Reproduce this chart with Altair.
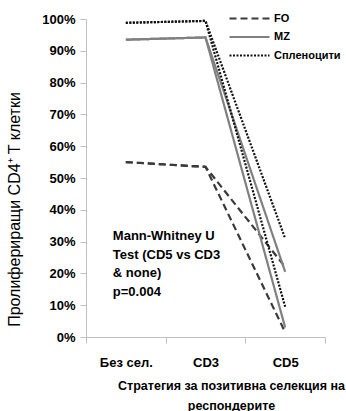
import altair as alt
import pandas as pd

categories = ["Без сел.", "CD3", "CD5"]
groups = ["FO", "MZ", "Спленоцити"]

fo_a = [55.0, 53.5, 22.0]
fo_b = [55.0, 53.5, 1.5]
mz_a = [93.5, 94.2, 20.5]
mz_b = [93.5, 94.2, 3.0]
spl_a = [98.8, 99.4, 31.0]
spl_b = [98.8, 99.4, 9.5]

series = [
    ("FO", "FO_a", fo_a), ("FO", "FO_b", fo_b),
    ("MZ", "MZ_a", mz_a), ("MZ", "MZ_b", mz_b),
    ("Спленоцити", "SPL_a", spl_a), ("Спленоцити", "SPL_b", spl_b),
]
rows = []
for g, s, vals in series:
    for c, v in zip(categories, vals):
        rows.append({"cat": c, "group": g, "series": s, "value": v / 100})
df = pd.DataFrame(rows)

note_text = "Mann-Whitney U\nTest (CD5 vs CD3\n& none)\np=0.004"
note_df = pd.DataFrame({"cat": ["Без сел."], "value": [0.335], "text": [note_text]})

FONT = "Liberation Sans"

xscale = alt.Scale(type="band", domain=categories, paddingInner=0, paddingOuter=0)

lines = alt.Chart(df).mark_line().encode(
    x=alt.X("cat:N", scale=xscale, sort=categories,
            axis=alt.Axis(title=["Стратегия за позитивна селекция на", "респондерите"],
                          labelAngle=0, tickBand="extent", tickSize=6,
                          labelPadding=13, labelFontSize=13, labelFontWeight="bold",
                          labelFont=FONT, domainColor="#bfbfbf", tickColor="#bfbfbf",
                          labelColor="#000000",
                          titleFont=FONT, titleFontSize=12.5, titleFontWeight="bold",
                          titleColor="#000000", titleX=145, titleY=42,
                          titleBaseline="top", titleLineHeight=20, titleAlign="center")),
    y=alt.Y("value:Q", scale=alt.Scale(domain=[0, 1]),
            axis=alt.Axis(title="Пролифериращи CD4⁺ T клетки", format=".0%",
                          values=[i / 10 for i in range(11)], grid=False,
                          labelOverlap=False, tickCount=11,
                          tickSize=6, labelPadding=5, labelFontSize=13,
                          labelFontWeight="bold", labelFont=FONT, labelColor="#000000",
                          domainColor="#bfbfbf", tickColor="#bfbfbf",
                          titleFont=FONT, titleFontSize=16, titleFontWeight="normal",
                          titleColor="#000000", titleX=-64, titleY=190,
                          titleBaseline="bottom", titleAngle=-90, titleAlign="center")),
    color=alt.Color("group:N", scale=alt.Scale(domain=groups, range=["#3a3a3a", "#808080", "#111111"]),
                    legend=alt.Legend(title=None, orient="none", legendX=157, legendY=-7,
                                      symbolType="M-4,0L4,0", symbolSize=100, symbolStrokeWidth=2,
                                      labelFont=FONT, labelFontSize=11, labelFontWeight="bold",
                                      labelColor="#000000", labelOffset=18, rowPadding=6.5)),
    strokeDash=alt.StrokeDash("group:N", scale=alt.Scale(domain=groups, range=[[7, 4], [1, 0], [2, 1.5]]),
                              legend=None),
    detail="series:N",
).properties(width=239, height=318)

note = alt.Chart(note_df).mark_text(align="left", baseline="top", font=FONT, fontSize=13,
                                    fontWeight="bold", lineBreak="\n", lineHeight=18.5,
                                    dx=-13, color="#000000").encode(
    x=alt.X("cat:N", scale=xscale, sort=categories),
    y=alt.Y("value:Q"),
    text="text:N",
)

chart = alt.layer(lines, note).properties(
    width=239, height=318,
    padding={"left": 86, "top": 19, "right": 21, "bottom": 74},
    autosize=alt.AutoSizeParams(type="none"),
).configure_view(stroke=None).configure_line(strokeWidth=2.2)

chart.save("out.html", embed_options={"renderer": "svg", "actions": False})
